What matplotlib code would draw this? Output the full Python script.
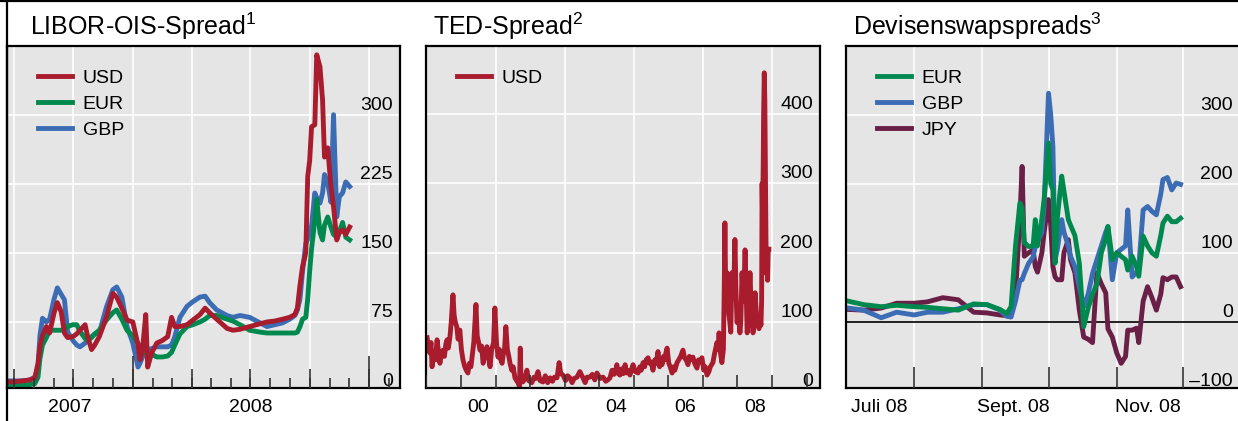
import matplotlib
matplotlib.use('Agg')
import matplotlib.pyplot as plt
import matplotlib.dates as mdates
import matplotlib.transforms as mtransforms
from matplotlib.lines import Line2D
import pandas as pd

plt.rcParams['font.family'] = ['Liberation Sans', 'DejaVu Sans']
plt.rcParams['mathtext.fontset'] = 'custom'
plt.rcParams['mathtext.rm'] = 'Liberation Sans'

# ---- data: LIBOR-OIS spread (basis points)
libor_dates = [
    '2007-06-20', '2007-06-30', '2007-07-14', '2007-07-25', '2007-08-02', '2007-08-07', '2007-08-10',
    '2007-08-14', '2007-08-20', '2007-08-25', '2007-09-01', '2007-09-06', '2007-09-12', '2007-09-17',
    '2007-09-22', '2007-09-30', '2007-10-06', '2007-10-11', '2007-10-19', '2007-10-23', '2007-10-29',
    '2007-11-03', '2007-11-10', '2007-11-21', '2007-12-01', '2007-12-07', '2007-12-15', '2007-12-23',
    '2008-01-01', '2008-01-09', '2008-01-12', '2008-01-16', '2008-01-21', '2008-01-24', '2008-01-30',
    '2008-02-07', '2008-02-16', '2008-02-24', '2008-03-01', '2008-03-06', '2008-03-14', '2008-03-25',
    '2008-04-03', '2008-04-14', '2008-04-22', '2008-04-29', '2008-05-10', '2008-05-26', '2008-06-04',
    '2008-06-15', '2008-06-30', '2008-07-16', '2008-07-27', '2008-08-08', '2008-08-20', '2008-08-31',
    '2008-09-08', '2008-09-12', '2008-09-16', '2008-09-20', '2008-09-25', '2008-09-28', '2008-10-01',
    '2008-10-04', '2008-10-09', '2008-10-12', '2008-10-17', '2008-10-21', '2008-10-24', '2008-10-29',
    '2008-11-03', '2008-11-07', '2008-11-12', '2008-11-16', '2008-11-21', '2008-11-26', '2008-12-02',
]
libor_usd = [10, 10, 11, 12, 14, 30, 48, 60, 70, 63, 85, 96, 86, 63, 58, 59, 62, 66, 72, 59, 45,
             50, 59, 80, 106, 102, 90, 77, 75, 50, 34, 45, 83, 26, 41, 52, 55, 59, 80, 70, 70, 72,
             77, 83, 90, 85, 78, 68, 66, 67, 70, 73, 75, 76, 78, 80, 83, 90, 115, 135, 150, 233, 250,
             287, 289, 365, 352, 316, 254, 264, 222, 200, 164, 172, 175, 170, 178]
libor_eur = [7, 7, 6, 7, 8, 15, 35, 50, 58, 66, 66, 66, 66, 67, 70, 72, 72, 65, 57, 55, 58,
             62, 66, 77, 85, 88, 78, 66, 60, 52, 48, 41, 41, 40, 40, 37, 37, 38, 42, 50, 62, 70,
             72, 75, 78, 82, 82, 78, 76, 72, 66, 64, 63, 63, 63, 63, 63, 64, 70, 78, 80, 100, 130,
             155, 185, 208, 172, 164, 180, 189, 178, 170, 167, 173, 183, 167, 164]
libor_gbp = [11, 11, 11, 12, 15, 25, 60, 79, 75, 78, 100, 112, 105, 99, 64, 55, 50, 48, 52, 55, 59,
             62, 63, 91, 110, 113, 102, 70, 52, 26, 30, 37, 42, 45, 46, 48, 48, 48, 50, 59, 80, 92,
             97, 102, 103, 96, 88, 82, 80, 82, 80, 74, 70, 72, 74, 78, 82, 88, 100, 130, 160, 165, 172,
             180, 215, 210, 204, 215, 235, 226, 205, 300, 189, 211, 215, 227, 222]

# ---- data: TED spread (basis points)
ted_dates = [
    '1999-01-08', '1999-01-25', '1999-02-05', '1999-02-18', '1999-03-01', '1999-03-20', '1999-04-05',
    '1999-04-23', '1999-05-10', '1999-05-23', '1999-06-10', '1999-06-24', '1999-07-10', '1999-07-25',
    '1999-08-07', '1999-08-20', '1999-09-06', '1999-09-20', '1999-10-08', '1999-10-20', '1999-11-01',
    '1999-11-17', '1999-12-01', '1999-12-20',
    '2000-01-05', '2000-01-22', '2000-02-10', '2000-02-25', '2000-03-14', '2000-03-30', '2000-04-15',
    '2000-04-27', '2000-05-15', '2000-06-07', '2000-06-20', '2000-07-05', '2000-07-20', '2000-08-05',
    '2000-08-22', '2000-09-10', '2000-10-01', '2000-10-15', '2000-11-03', '2000-11-20', '2000-12-10',
    '2000-12-24',
    '2001-01-10', '2001-01-26', '2001-02-10', '2001-02-25', '2001-03-10', '2001-03-25', '2001-04-05',
    '2001-04-19', '2001-05-05', '2001-05-20', '2001-06-02', '2001-06-20', '2001-07-05', '2001-07-24',
    '2001-08-10', '2001-08-25', '2001-09-10', '2001-09-18', '2001-09-26', '2001-10-16', '2001-11-05',
    '2001-11-28', '2001-12-15',
    '2002-01-19', '2002-02-10', '2002-03-01', '2002-03-25', '2002-04-15', '2002-05-16', '2002-06-10',
    '2002-07-05', '2002-07-31', '2002-08-25', '2002-09-15', '2002-10-12', '2002-11-03', '2002-11-20',
    '2002-12-14',
    '2003-01-10', '2003-02-01', '2003-02-25', '2003-03-20', '2003-04-10', '2003-05-11', '2003-06-10',
    '2003-07-13', '2003-08-05', '2003-08-25', '2003-09-24', '2003-10-20', '2003-11-15', '2003-12-08',
    '2004-01-10', '2004-02-10', '2004-03-10', '2004-04-01', '2004-04-23', '2004-05-15', '2004-06-05',
    '2004-06-20', '2004-07-05', '2004-07-20', '2004-08-07', '2004-08-25', '2004-09-10', '2004-09-30',
    '2004-10-15', '2004-11-01', '2004-11-21', '2004-12-05', '2004-12-23',
    '2005-01-15', '2005-02-14', '2005-03-05', '2005-03-20', '2005-04-08', '2005-04-25', '2005-05-10',
    '2005-05-31', '2005-06-15', '2005-07-01', '2005-07-22', '2005-08-10', '2005-08-25', '2005-09-13',
    '2005-09-30', '2005-10-10', '2005-10-26', '2005-11-10', '2005-11-25', '2005-12-05', '2005-12-18',
    '2006-01-05', '2006-01-20', '2006-02-09', '2006-02-25', '2006-03-10', '2006-04-02', '2006-04-20',
    '2006-05-10', '2006-06-04', '2006-06-20', '2006-07-10', '2006-07-27', '2006-08-10', '2006-08-25',
    '2006-09-17', '2006-10-05', '2006-10-30', '2006-11-15', '2006-12-01', '2006-12-21',
    '2007-01-10', '2007-01-25', '2007-02-13', '2007-03-05', '2007-03-20', '2007-04-16', '2007-05-05',
    '2007-05-29', '2007-06-10', '2007-06-20', '2007-07-05', '2007-07-20', '2007-08-05', '2007-08-14',
    '2007-08-21', '2007-08-28', '2007-09-05', '2007-09-12', '2007-09-25', '2007-10-12', '2007-10-22',
    '2007-11-03', '2007-11-15', '2007-11-25', '2007-12-05', '2007-12-15', '2007-12-27',
    '2008-01-10', '2008-01-27', '2008-02-05', '2008-02-18', '2008-03-01', '2008-03-10', '2008-03-21',
    '2008-04-01', '2008-04-12', '2008-04-25', '2008-05-12', '2008-05-25', '2008-06-13', '2008-06-25',
    '2008-07-05', '2008-07-20', '2008-08-05', '2008-08-15', '2008-08-27', '2008-09-05', '2008-09-12',
    '2008-09-17', '2008-09-22', '2008-09-29', '2008-10-03', '2008-10-10', '2008-10-16', '2008-10-24',
    '2008-10-31', '2008-11-07', '2008-11-14', '2008-11-21', '2008-11-28',
]
ted_usd = [
    77, 60, 55, 70, 35, 55, 45, 74, 55, 40, 55, 59, 50, 68, 74, 62, 78, 100, 139, 110, 100, 93, 75, 88,
    60, 45, 35, 30, 26, 40, 35, 49, 70, 125, 80, 70, 59, 65, 40, 55, 64, 50, 35, 60, 70, 120,
    70, 49, 60, 45, 40, 55, 60, 93, 60, 50, 40, 30, 35, 19, 15, 12, 6, 62, 20, 13, 18, 30, 15,
    12, 20, 18, 28, 15, 13, 22, 12, 19, 14, 20, 19, 41, 25, 23,
    15, 22, 19, 12, 18, 20, 28, 19, 12, 20, 20, 24, 16, 26,
    18, 20, 14, 16, 19, 30, 24, 28, 38, 25, 23, 32, 25, 38, 26, 30, 23, 30, 38,
    28, 26, 35, 30, 41, 35, 45, 48, 40, 42, 30, 45, 40, 57, 35, 45, 38, 50, 45, 55, 62,
    40, 35, 26, 35, 30, 41, 45, 50, 59, 48, 44, 38, 50, 45, 49, 40, 33, 45, 42, 48,
    30, 35, 23, 28, 35, 41, 55, 70, 60, 84, 55, 41, 60, 150, 243, 160, 125, 171, 120, 99, 85,
    171, 140, 160, 219, 150, 99,
    110, 84, 100, 171, 130, 150, 204, 150, 84, 100, 171, 120, 84, 100, 142, 110, 99, 90, 105, 95,
    130, 300, 250, 330, 400, 460, 420, 280, 170, 190, 160, 205, 205,
]

# ---- data: FX swap spreads (basis points)
swap_dates = [
    '2008-07-02', '2008-07-09', '2008-07-17', '2008-07-24', '2008-08-01', '2008-08-07', '2008-08-14',
    '2008-08-21', '2008-08-28', '2008-09-03', '2008-09-09', '2008-09-12', '2008-09-14', '2008-09-16',
    '2008-09-18', '2008-09-19', '2008-09-20', '2008-09-22', '2008-09-24', '2008-09-25', '2008-09-26',
    '2008-09-28', '2008-09-29', '2008-10-01', '2008-10-02', '2008-10-03', '2008-10-04', '2008-10-05',
    '2008-10-07', '2008-10-08', '2008-10-10', '2008-10-11', '2008-10-13', '2008-10-15', '2008-10-17',
    '2008-10-19', '2008-10-21', '2008-10-23', '2008-10-25', '2008-10-27', '2008-10-28', '2008-10-30',
    '2008-11-01', '2008-11-03', '2008-11-05', '2008-11-06', '2008-11-08', '2008-11-10', '2008-11-11',
    '2008-11-13', '2008-11-15', '2008-11-17', '2008-11-19', '2008-11-21', '2008-11-22', '2008-11-24',
    '2008-11-26', '2008-11-28', '2008-11-30',
]
swap_eur = [30, 25, 22, 24, 22, 21, 19, 17, 26, 25, 18, 12, 22, 110, 172, 165, 115, 109, 110, 148,
            110, 150, 177, 259, 200, 191, 85, 150, 211, 190, 148, 140, 125, 85, -7, 20, 40, 55, 100,
            120, 138, 90, 100, 95, 90, 75, 95, 80, 66, 124, 110, 100, 95, 125, 143, 153, 145, 145, 150]
swap_gbp = [20, 17, 6, 14, 10, 14, 14, 19, 25, 25, 17, 8, 7, 30, 60, 61, 70, 85, 94, 109,
            115, 130, 167, 331, 300, 254, 90, 105, 148, 130, 110, 95, 80, 51, 22, 40, 70, 90, 110,
            130, 138, 61, 100, 105, 110, 162, 65, 72, 80, 162, 167, 160, 155, 185, 206, 209, 191, 201, 199]
swap_jpy = [18, 17, 20, 27, 27, 29, 35, 32, 14, 13, 10, 9, 12, 40, 150, 225, 95, 100, 104, 80,
            72, 100, 129, 177, 140, 80, 65, 61, 61, 100, 119, 90, 71, 17, -22, -25, -30, 71, 55,
            42, -10, -22, -45, -60, -50, -12, -12, -9, -30, 30, 51, 35, 17, 40, 64, 61, 65, 65, 51]

# ---- style
BG = '#e5e5e5'
RED = '#a81c2e'
GREEN = '#00894f'
BLUE = '#3b6cb4'
PLUM = '#6a1f47'
TICK = '#333333'
FS = 14
LW = 3.5
W, H = 1238, 421

fig = plt.figure(figsize=(W / 100, H / 100), dpi=100)


def add_panel(left, right, top=46.5, bottom=388):
    ax = fig.add_axes([left / W, 1 - bottom / H, (right - left) / W, (bottom - top) / H])
    ax.set_facecolor(BG)
    ax.set_xticks([])
    ax.set_yticks([])
    for s in ax.spines.values():
        s.set_linewidth(1.6)
        s.set_color('black')
    return ax, right - left, bottom - top


def finish(ax, wpx, hpx, yticks, ylabels, hgrid, vgrid, ticks, labels):
    for v in hgrid:
        ax.axhline(v, color='white', lw=1.2, zorder=1)
    for d in vgrid:
        ax.axvline(mdates.date2num(pd.Timestamp(d)), color='white', lw=1.2, zorder=1)
    # y labels inside the plot, right aligned, just above their level
    trans = mtransforms.offset_copy(ax.get_yaxis_transform(), fig=fig, x=0, y=5, units='dots')
    for v, lab in zip(yticks, ylabels):
        ax.text(1 - 7 / wpx, v, lab, transform=trans, ha='right', va='baseline', fontsize=FS)
    # tick marks rising from the bottom
    xt = ax.get_xaxis_transform()
    for dates, h in ticks:
        xs = mdates.date2num(pd.to_datetime(dates))
        ax.vlines(xs, 0, h / hpx, transform=xt, color=TICK, lw=1.2, zorder=4)
    for d, lab in labels:
        ax.text(mdates.date2num(pd.Timestamp(d)), -20 / hpx, lab, transform=xt,
                ha='center', va='center', fontsize=FS)


def legend(ax, wpx, hpx, handles, names):
    ax.legend(handles, names, loc='upper left', bbox_to_anchor=(31 / wpx, 1 - 23 / hpx),
              frameon=False, borderaxespad=0, borderpad=0, fontsize=FS,
              handlelength=1.75, handletextpad=0.55, labelspacing=0.43)


# panel 1: LIBOR-OIS
ax1, w1, h1 = add_panel(7, 400)
d1 = pd.to_datetime(libor_dates)
l_gbp, = ax1.plot(d1, libor_gbp, color=BLUE, lw=LW, zorder=2)
l_eur, = ax1.plot(d1, libor_eur, color=GREEN, lw=LW, zorder=2)
l_usd, = ax1.plot(d1, libor_usd, color=RED, lw=LW, zorder=2)
ax1.set_xlim(pd.Timestamp('2007-06-20'), pd.Timestamp('2009-02-18'))
ax1.set_ylim(3.3, 374)
months1 = pd.date_range('2007-07-01', '2009-02-01', freq='MS')
quarters1 = pd.date_range('2007-07-01', '2009-01-01', freq='QS')
finish(ax1, w1, h1, [0, 75, 150, 225, 300], ['0', '75', '150', '225', '300'],
       [75, 150, 225, 300], quarters1,
       [(months1, 10), (quarters1, 19), (['2008-01-01', '2009-01-01'], 32)],
       [('2007-09-25', '2007'), ('2008-07-01', '2008')])
legend(ax1, w1, h1, [l_usd, l_eur, l_gbp], ['USD', 'EUR', 'GBP'])

# panel 2: TED spread
ax2, w2, h2 = add_panel(426, 820)
l_ted, = ax2.plot(pd.to_datetime(ted_dates), ted_usd, color=RED, lw=LW, zorder=2)
ax2.set_xlim(pd.Timestamp('1998-12-27'), pd.Timestamp('2010-05-22'))
ax2.set_ylim(4.3, 498)
years2 = pd.date_range('1999-01-01', '2010-01-01', freq='YS')
finish(ax2, w2, h2, [0, 100, 200, 300, 400], ['0', '100', '200', '300', '400'],
       [100, 200, 300, 400], ['2001-01-01', '2003-01-01', '2005-01-01', '2007-01-01', '2009-01-01'],
       [(years2, 13)],
       [('2000-07-01', '00'), ('2002-07-01', '02'), ('2004-07-01', '04'),
        ('2006-07-01', '06'), ('2008-07-01', '08')])
legend(ax2, w2, h2, [l_ted], ['USD'])

# panel 3: FX swap spreads
ax3, w3, h3 = add_panel(846, 1240)
d3 = pd.to_datetime(swap_dates)
ax3.axhline(0, color='black', lw=1.2, zorder=1.5)
l_jpy, = ax3.plot(d3, swap_jpy, color=PLUM, lw=LW, zorder=2)
l_gbp3, = ax3.plot(d3, swap_gbp, color=BLUE, lw=LW, zorder=2)
l_eur3, = ax3.plot(d3, swap_eur, color=GREEN, lw=LW, zorder=2)
ax3.set_xlim(pd.Timestamp('2008-07-01'), pd.Timestamp('2008-12-27'))
ax3.set_ylim(-95.7, 398.6)
months3 = pd.date_range('2008-08-01', '2008-12-01', freq='MS')
finish(ax3, w3, h3, [-100, 0, 100, 200, 300], ['\u2013100', '0', '100', '200', '300'],
       [100, 200, 300], months3, [(months3, 21)],
       [('2008-07-16', 'Juli 08'), ('2008-09-15', 'Sept. 08'), ('2008-11-15', 'Nov. 08')])
legend(ax3, w3, h3, [l_eur3, l_gbp3, l_jpy], ['EUR', 'GBP', 'JPY'])

# titles
fig.text(30 / W, 1 - 35 / H, 'LIBOR-OIS-Spread$^1$', fontsize=18, va='baseline')
fig.text(433 / W, 1 - 35 / H, 'TED-Spread$^2$', fontsize=18, va='baseline')
fig.text(853 / W, 1 - 35 / H, 'Devisenswapspreads$^3$', fontsize=18, va='baseline')

# outer frame lines (top and left)
fig.add_artist(Line2D([0, 1], [1 - 0.8 / H, 1 - 0.8 / H], transform=fig.transFigure,
                      color='black', lw=1.6))
fig.add_artist(Line2D([6.5 / W, 6.5 / W], [0, 1], transform=fig.transFigure,
                      color='black', lw=1.6))

fig.savefig('out.png', dpi=100)
